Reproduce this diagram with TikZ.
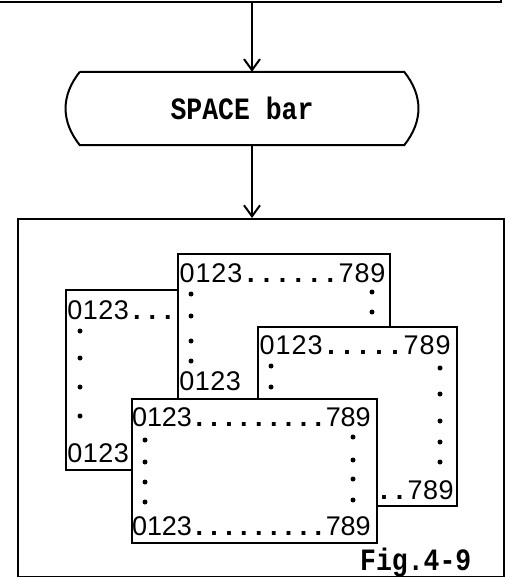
\documentclass[tikz,border=0pt]{standalone}
\usepackage{fontspec}
\usetikzlibrary{arrows.meta, positioning, calc}
\newfontfamily\keyfont{Liberation Mono}
\newfontfamily\scrfont{Liberation Sans}
% one screen line, every character in a cell of fixed width
\newlength\cellw
\newcommand\scrline[2][15pt]{\setlength\cellw{#1}\scrcells#2\relax}
\def\scrcells#1{\ifx#1\relax\else
  \ifx#1.\makebox[\cellw]{\bfseries.}\else\makebox[\cellw]{#1}\fi
  \expandafter\scrcells\fi}

\tikzset{
  frame/.style={draw, line width=2pt, inner sep=0pt},
  flow/.style={line width=2pt, -{Straight Barb[length=11pt, width=16pt, line width=2pt]}},
  page/.style={frame, fill=white, anchor=north west},
  scr/.style={anchor=west, inner sep=0pt, font=\scrfont\fontsize{27}{27}\selectfont},
  key/.style={font=\keyfont\bfseries\fontsize{27}{27}\selectfont}
}

\begin{document}
\begin{tikzpicture}[x=1pt, y=-1pt]
  \useasboundingbox (0,0) rectangle (509,577);
  \coordinate (col) at (252,0);

  % previous step (cut off at the top)
  \node (prev) [frame, minimum width=504pt, minimum height=40pt, anchor=south west] at (-4,3) {};

  % terminal
  \node (space) [key, minimum width=324pt, minimum height=73pt, inner sep=0pt] at (242,108.5) {\scalebox{0.98}[1.15]{SPACE bar}};
  \draw[line width=2pt] (space.north west) -- (space.north east)
    .. controls +(19,24) and +(19,-24) .. (space.south east) -- (space.south west)
    .. controls +(-19,-24) and +(-19,24) .. (space.north west);

  % screen
  \node (screen) [frame, minimum width=486pt, minimum height=358pt, anchor=north west] at (17,218) {};

  \draw[flow] (prev.south -| col) -- (space.north -| col);
  \draw[flow] (space.south -| col) -- (screen.north -| col);

  % left page
  \node (pageA) [page, minimum width=112pt, minimum height=180pt] at (65,289) {};
  \node (txtA1) [scr] at (67,310) {\scrline[15.5pt]{0123...}};
  \node (txtA2) [scr] at (67,453) {\scrline[15.5pt]{0123}};
  \foreach \y in {331,358,387,416} \fill (80,\y) circle (2.5pt);

  % top page
  \node (pageB) [page, minimum width=212pt, minimum height=150pt] at (177,253) {};
  \node (txtB1) [scr] at (179,273) {\scrline[15.9pt]{0123......789}};
  \node (txtB2) [scr] at (179,381) {\scrline[15.5pt]{0123}};
  \foreach \y in {294,316,341,361} \fill (191,\y) circle (2.5pt);
  \foreach \y in {292,312} \fill (372,\y) circle (2.5pt);

  % right page
  \node (pageC) [page, minimum width=199pt, minimum height=179pt] at (257,326) {};
  \node (txtC1) [scr] at (259,345) {\scrline[16pt]{0123.....789}};
  \node (txtC2) [scr, anchor=east] at (454,490) {\scrline[15.5pt]{..789}};
  \foreach \y in {366,387} \fill (271,\y) circle (2.5pt);
  \foreach \y in {368,394,421,442,462} \fill (440,\y) circle (2.5pt);

  % front page
  \node (pageD) [page, minimum width=245pt, minimum height=144pt] at (131,398) {};
  \node (txtD1) [scr] at (132,417) {\scrline[14.9pt]{0123.........789}};
  \node (txtD2) [scr] at (132,526) {\scrline[14.9pt]{0123.........789}};
  \foreach \y in {440,462,482,502} \fill (145,\y) circle (2.5pt);
  \foreach \y in {437,460,479,500} \fill (353,\y) circle (2.5pt);

  \node (figlbl) [key, anchor=base west, inner sep=0pt] at (360,570) {\scalebox{0.98}[1.15]{Fig.4-9}};
\end{tikzpicture}
\end{document}
